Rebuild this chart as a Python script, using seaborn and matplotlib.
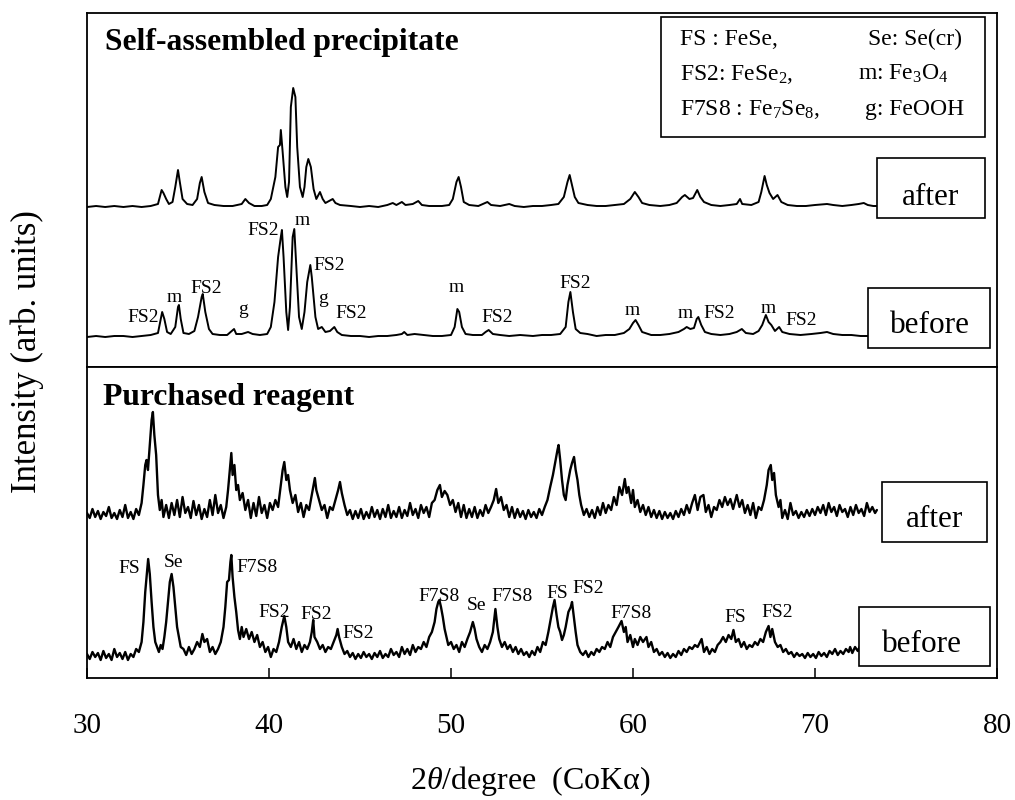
import matplotlib
matplotlib.use("Agg")
import matplotlib.pyplot as plt
from matplotlib.patches import Rectangle
import pandas as pd
import seaborn as sns

# ---------------- data (2theta in degrees, intensity in arbitrary units above each baseline) -------------
top_after = [(30.0,0),(30.5,1),(31.0,0),(31.5,1),(32.0,0),(32.5,1),(33.0,0),(33.5,1),(33.9,3),(34.1,17),(34.2,14),
    (34.35,8),(34.5,3),(34.7,5),(34.85,20),(35.0,37),(35.1,25),(35.25,8),(35.5,3),(35.8,2),(36.05,8),(36.2,24),
    (36.3,30),(36.45,15),(36.65,4),(37.0,2),(37.5,1),(38.0,1),(38.5,3),(38.7,8),(38.9,4),(39.2,1),(39.6,1),
    (39.9,2),(40.1,8),(40.35,30),(40.5,60),(40.6,62),(40.65,77),(40.75,55),(40.9,20),(41.0,10),(41.1,25),
    (41.2,100),(41.33,119),(41.45,110),(41.55,60),(41.7,20),(41.85,10),(41.95,20),(42.05,40),(42.16,48),
    (42.3,40),(42.45,18),(42.6,8),(42.8,15),(42.95,8),(43.1,4),(43.3,6),(43.5,8),(43.65,4),(43.9,2),(44.5,1),
    (45.0,0),(45.5,1),(46.0,0),(46.5,2),(46.8,4),(47.0,2),(47.3,5),(47.5,2),(47.9,3),(48.2,6),(48.4,2),(48.8,1),
    (49.5,1),(49.9,2),(50.1,8),(50.3,25),(50.42,30),(50.55,20),(50.7,5),(51.0,2),(51.5,1),(52.0,5),(52.2,2),
    (52.7,1),(53.2,3),(53.5,1),(54.0,0),(54.5,1),(55.0,1),(55.5,2),(55.9,3),(56.2,10),(56.4,25),(56.52,32),
    (56.65,22),(56.8,10),(57.0,4),(57.5,2),(58.0,1),(58.5,1),(59.0,2),(59.5,3),(59.85,8),(60.1,15),(60.3,10),
    (60.5,4),(60.9,2),(61.5,1),(62.0,2),(62.4,4),(62.7,10),(62.85,12),(63.1,8),(63.3,9),(63.53,17),(63.7,10),
    (63.9,5),(64.3,2),(64.8,1),(65.3,2),(65.7,3),(65.88,8),(66.0,3),(66.5,2),(66.9,5),(67.05,15),(67.23,31),
    (67.35,22),(67.5,14),(67.7,8),(67.94,12),(68.15,5),(68.5,2),(69.0,1),(69.5,1),(70.0,2),(70.66,3),(71.0,2),
    (71.5,1),(72.0,2),(72.4,3),(72.68,4),(72.9,2),(73.2,1),(73.45,1)]

top_before = [(30.0,0),(30.5,1),(31.0,0),(31.5,1),(32.0,1),(32.5,0),(33.0,1),(33.5,2),(33.9,4),(34.05,18),(34.13,25),
    (34.25,18),(34.4,5),(34.6,3),(34.85,10),(35.0,30),(35.05,32),(35.15,18),(35.3,4),(35.6,3),(35.9,6),(36.1,20),
    (36.3,40),(36.36,43),(36.5,25),(36.7,8),(36.9,3),(37.3,2),(37.7,2),(37.95,6),(38.08,8),(38.2,3),(38.5,3),
    (38.85,5),(39.1,3),(39.5,2),(39.9,3),(40.1,10),(40.3,35),(40.5,80),(40.65,100),(40.71,107),(40.8,80),
    (40.95,25),(41.05,7),(41.15,30),(41.3,100),(41.39,108),(41.5,70),(41.65,20),(41.8,8),(41.95,25),(42.1,55),
    (42.27,72),(42.35,60),(42.42,46),(42.55,20),(42.7,8),(42.9,10),(43.1,5),(43.35,6),(43.59,10),(43.75,5),
    (44.0,2),(44.5,1),(45.0,1),(45.5,0),(46.0,1),(46.5,1),(47.0,2),(47.3,3),(47.43,5),(47.6,2),(48.0,3),(48.5,2),
    (49.0,1),(49.5,1),(50.0,2),(50.2,10),(50.35,28),(50.45,25),(50.6,10),(50.8,3),(51.2,2),(51.7,2),(51.9,5),
    (52.07,7),(52.3,3),(52.7,2),(53.2,1),(53.8,2),(54.5,1),(55.0,2),(55.5,2),(56.0,3),(56.3,10),(56.45,35),
    (56.56,45),(56.7,25),(56.85,8),(57.1,4),(57.5,3),(58.0,1),(58.5,2),(59.0,2),(59.5,4),(59.8,8),(60.0,14),
    (60.14,17),(60.3,12),(60.5,5),(61.0,2),(61.5,2),(62.0,3),(62.5,5),(62.8,8),(62.95,10),(63.15,8),(63.35,9),
    (63.5,18),(63.59,20),(63.75,12),(63.95,5),(64.3,3),(64.8,2),(65.3,3),(65.7,5),(65.98,8),(66.2,4),(66.6,3),
    (66.9,6),(67.1,12),(67.3,22),(67.45,15),(67.6,12),(67.8,6),(68.03,10),(68.2,5),(68.6,3),(69.2,2),(69.8,3),
    (70.3,4),(70.66,5),(71.0,3),(71.5,2),(72.0,2),(72.5,1),(72.96,1)]

bottom_after = [(30.0,2),(30.15,-3),(30.3,6),(30.45,-2),(30.6,4),(30.75,-4),(30.9,3),(31.05,-1),(31.2,8),(31.35,-3),
    (31.5,2),(31.65,-4),(31.8,5),(31.95,-2),(32.1,10),(32.25,-3),(32.4,3),(32.55,-4),(32.7,6),(32.85,0),(33.0,12),
    (33.1,30),(33.2,50),(33.27,55),(33.35,45),(33.45,70),(33.55,95),(33.62,103),(33.7,80),(33.8,60),(33.9,20),
    (34.0,5),(34.1,15),(34.2,-2),(34.35,10),(34.5,-3),(34.65,12),(34.8,0),(34.95,15),(35.1,-2),(35.25,18),
    (35.4,2),(35.55,8),(35.7,-3),(35.85,14),(36.0,0),(36.15,10),(36.3,-4),(36.45,6),(36.6,-2),(36.75,15),(36.9,0),
    (37.05,20),(37.2,2),(37.35,10),(37.5,-3),(37.65,8),(37.75,25),(37.85,45),(37.93,62),(38.0,40),(38.1,50),
    (38.2,25),(38.3,30),(38.4,15),(38.55,22),(38.7,5),(38.85,15),(39.0,-3),(39.15,12),(39.3,-1),(39.45,18),
    (39.6,2),(39.75,10),(39.9,-3),(40.05,12),(40.2,5),(40.35,15),(40.5,8),(40.65,30),(40.75,45),(40.84,53),
    (40.95,35),(41.05,40),(41.15,25),(41.3,12),(41.45,20),(41.6,3),(41.75,12),(41.9,-2),(42.05,10),(42.2,5),
    (42.35,20),(42.45,30),(42.52,37),(42.6,25),(42.75,15),(42.9,5),(43.05,10),(43.2,-3),(43.35,8),(43.5,5),
    (43.65,15),(43.8,25),(43.9,33),(44.0,22),(44.15,10),(44.3,0),(44.45,5),(44.6,-4),(44.75,4),(44.9,-3),
    (45.05,6),(45.2,-4),(45.35,3),(45.5,-3),(45.65,8),(45.8,-2),(45.95,5),(46.1,-4),(46.25,6),(46.4,-2),
    (46.55,10),(46.7,-3),(46.85,4),(47.0,-2),(47.15,8),(47.3,-3),(47.45,5),(47.6,-1),(47.75,12),(47.9,0),
    (48.05,6),(48.2,-3),(48.35,10),(48.5,2),(48.65,8),(48.8,-2),(48.95,12),(49.1,15),(49.25,25),(49.39,30),
    (49.5,18),(49.65,24),(49.8,20),(49.95,10),(50.1,15),(50.25,3),(50.4,12),(50.55,-2),(50.7,10),(50.85,-3),
    (51.0,6),(51.15,-2),(51.3,8),(51.45,-3),(51.6,5),(51.75,-1),(51.9,10),(52.05,2),(52.2,8),(52.35,15),
    (52.48,26),(52.6,12),(52.75,18),(52.9,5),(53.05,10),(53.2,-2),(53.35,8),(53.5,-3),(53.65,6),(53.8,-2),
    (53.95,4),(54.1,-4),(54.25,5),(54.4,-2),(54.55,3),(54.7,-3),(54.85,6),(55.0,0),(55.15,8),(55.3,15),
    (55.45,28),(55.6,40),(55.75,55),(55.85,65),(55.91,70),(56.0,55),(56.1,35),(56.2,20),(56.3,15),(56.4,30),
    (56.55,45),(56.65,52),(56.76,58),(56.85,45),(56.95,35),(57.05,20),(57.15,10),(57.3,0),(57.45,6),(57.6,-2),
    (57.75,5),(57.9,-3),(58.05,8),(58.2,0),(58.35,12),(58.5,2),(58.65,10),(58.8,5),(58.95,18),(59.1,10),
    (59.25,28),(59.4,20),(59.55,36),(59.65,22),(59.75,28),(59.9,12),(60.0,25),(60.1,8),(60.25,15),(60.4,3),
    (60.55,10),(60.7,0),(60.85,8),(61.0,-2),(61.15,5),(61.3,-3),(61.45,4),(61.6,-4),(61.75,3),(61.9,-3),
    (62.05,2),(62.2,-4),(62.35,4),(62.5,-2),(62.65,6),(62.8,0),(62.95,10),(63.1,2),(63.25,12),(63.4,20),
    (63.55,5),(63.7,18),(63.87,20),(64.0,3),(64.15,10),(64.3,-2),(64.45,8),(64.6,5),(64.75,15),(64.9,8),
    (65.05,18),(65.2,10),(65.35,16),(65.5,6),(65.7,20),(65.85,8),(66.0,15),(66.15,2),(66.3,10),(66.45,0),
    (66.6,12),(66.75,-3),(66.9,8),(67.05,5),(67.2,15),(67.35,30),(67.45,45),(67.57,50),(67.65,35),(67.75,42),
    (67.85,20),(68.0,8),(68.1,15),(68.2,-3),(68.35,5),(68.5,-4),(68.65,12),(68.8,0),(68.95,4),(69.1,-3),
    (69.25,3),(69.4,-2),(69.55,5),(69.7,-1),(69.85,6),(70.0,0),(70.15,8),(70.3,2),(70.45,10),(70.6,0),
    (70.75,12),(70.9,3),(71.05,8),(71.2,-1),(71.35,10),(71.5,3),(71.65,6),(71.8,-2),(71.95,8),(72.1,0),
    (72.25,10),(72.4,2),(72.55,6),(72.7,-1),(72.85,12),(73.0,3),(73.15,8),(73.3,2),(73.4,5)]

bottom_before = [(30.0,3),(30.15,-2),(30.3,5),(30.45,0),(30.6,4),(30.75,-3),(30.9,6),(31.05,-1),(31.2,3),(31.35,-3),
    (31.5,8),(31.65,0),(31.8,4),(31.95,-2),(32.1,5),(32.25,-3),(32.4,3),(32.55,0),(32.7,8),(32.85,5),(33.0,15),
    (33.1,35),(33.2,65),(33.3,85),(33.36,98),(33.45,83),(33.55,55),(33.65,30),(33.75,15),(33.85,10),(33.95,5),
    (34.05,12),(34.15,8),(34.25,20),(34.35,35),(34.45,55),(34.55,75),(34.65,83),(34.75,70),(34.85,50),(34.95,30),
    (35.05,20),(35.15,10),(35.3,8),(35.45,2),(35.6,10),(35.75,3),(35.9,8),(36.05,15),(36.2,10),(36.34,23),
    (36.45,15),(36.6,18),(36.75,5),(36.9,10),(37.05,3),(37.2,8),(37.35,15),(37.5,30),(37.6,50),(37.7,75),
    (37.8,77),(37.88,95),(37.93,102),(38.0,80),(38.1,60),(38.2,45),(38.3,27),(38.4,18),(38.5,30),(38.6,20),
    (38.75,28),(38.9,18),(39.05,25),(39.2,15),(39.35,22),(39.5,10),(39.65,15),(39.8,5),(39.95,10),(40.1,0),
    (40.25,8),(40.4,5),(40.55,15),(40.7,30),(40.84,41),(40.95,30),(41.05,15),(41.2,10),(41.35,18),(41.5,8),
    (41.65,15),(41.8,5),(41.95,12),(42.1,8),(42.25,15),(42.35,25),(42.43,37),(42.5,20),(42.65,15),(42.8,8),
    (42.95,12),(43.1,5),(43.25,10),(43.4,8),(43.55,15),(43.7,22),(43.77,28),(43.85,20),(44.0,10),(44.15,3),
    (44.3,6),(44.45,0),(44.6,4),(44.75,-2),(44.9,3),(45.05,-1),(45.2,5),(45.35,0),(45.5,3),(45.65,-2),(45.8,4),
    (45.95,0),(46.1,6),(46.25,-1),(46.4,3),(46.55,0),(46.7,8),(46.85,2),(47.0,5),(47.15,0),(47.3,10),(47.45,3),
    (47.6,8),(47.75,2),(47.9,12),(48.05,5),(48.2,10),(48.35,8),(48.5,15),(48.65,10),(48.8,20),(48.95,25),
    (49.1,35),(49.2,48),(49.3,55),(49.36,57),(49.45,50),(49.55,40),(49.65,28),(49.75,20),(49.85,12),(50.0,15),
    (50.15,8),(50.3,12),(50.45,5),(50.6,15),(50.75,10),(50.9,18),(51.05,25),(51.2,35),(51.3,28),(51.4,18),
    (51.55,10),(51.7,5),(51.85,12),(52.0,8),(52.15,15),(52.3,25),(52.44,48),(52.55,30),(52.65,18),(52.8,10),
    (52.95,15),(53.1,8),(53.25,12),(53.4,5),(53.55,10),(53.7,3),(53.85,8),(54.0,2),(54.15,5),(54.3,0),(54.45,6),
    (54.6,2),(54.75,10),(54.9,5),(55.05,15),(55.2,12),(55.35,25),(55.5,40),(55.6,50),(55.69,57),(55.8,42),
    (55.9,30),(56.0,25),(56.1,17),(56.2,22),(56.3,30),(56.45,45),(56.58,50),(56.65,55),(56.75,40),(56.85,25),
    (56.95,12),(57.1,5),(57.25,2),(57.4,6),(57.55,0),(57.71,5),(57.85,2),(58.0,8),(58.15,5),(58.3,10),(58.45,8),
    (58.6,15),(58.75,10),(58.9,20),(59.05,25),(59.2,30),(59.37,36),(59.5,25),(59.6,30),(59.7,15),(59.85,22),
    (60.0,10),(60.1,18),(60.25,12),(60.4,20),(60.55,15),(60.74,20),(60.85,10),(61.0,15),(61.15,5),(61.3,8),
    (61.45,2),(61.6,5),(61.75,0),(61.9,4),(62.05,-1),(62.2,3),(62.35,0),(62.5,6),(62.65,2),(62.8,8),(62.95,5),
    (63.1,10),(63.25,8),(63.4,12),(63.55,10),(63.77,18),(63.9,5),(64.05,10),(64.2,3),(64.35,8),(64.5,5),
    (64.65,12),(64.8,15),(64.95,20),(65.1,15),(65.25,22),(65.4,18),(65.52,27),(65.65,15),(65.8,18),(65.95,10),
    (66.1,15),(66.25,8),(66.4,12),(66.55,10),(66.7,15),(66.85,12),(67.0,18),(67.15,15),(67.3,25),(67.45,31),
    (67.55,20),(67.65,28),(67.8,15),(67.95,10),(68.1,12),(68.25,5),(68.4,8),(68.55,3),(68.7,5),(68.85,0),
    (69.0,4),(69.15,1),(69.3,3),(69.45,-1),(69.6,4),(69.75,0),(69.9,3),(70.05,-1),(70.2,5),(70.35,1),(70.5,4),
    (70.65,0),(70.8,6),(70.95,3),(71.1,8),(71.25,2),(71.4,6),(71.55,3),(71.7,8),(71.85,5),(71.93,10),(72.05,4),
    (72.2,10),(72.35,6),(72.5,12),(72.59,15)]

x_ticks = [30, 40, 50, 60, 70, 80]

# peak labels: (text, 2theta, height in panel units)
top_labels = [("FS2",33.10,45.3),("m",34.82,65.3),("FS2",36.54,73.7),("g",38.57,53),("FS2",39.66,132),
              ("m",41.80,142),("FS2",43.30,97),("g",42.98,63.7),("FS2",44.51,48.7),("m",50.29,75.3),
              ("FS2",52.55,45.3),("FS2",56.81,78.7),("m",59.97,52),("m",62.86,48.7),("FS2",64.75,48.7),
              ("m",67.42,53.7),("FS2",69.22,42)]
bottom_labels = [("FS",32.30,104.7),("Se",34.73,111.3),("F7S8",39.32,106.3),("FS2",40.31,61.3),("FS2",42.60,58.7),
                 ("FS2",44.89,40.3),("F7S8",49.35,77.3),("Se",51.41,68),("F7S8",53.35,77.3),("FS",55.85,79.7),
                 ("FS2",57.54,85.3),("F7S8",59.90,59.7),("FS",65.60,56.3),("FS2",67.92,61.3)]

# ---------------- style ----------------
sns.set_theme(style="white")
plt.rcParams["font.family"] = ["Liberation Serif", "DejaVu Serif"]
plt.rcParams["mathtext.fontset"] = "custom"
plt.rcParams["mathtext.rm"] = "Liberation Serif"
plt.rcParams["mathtext.it"] = "Liberation Serif:italic"
plt.rcParams["text.color"] = "black"
plt.rcParams["axes.edgecolor"] = "black"
plt.rcParams["axes.linewidth"] = 1.3

W, H = 1015, 800
fig = plt.figure(figsize=(W / 100, H / 100), dpi=100)
fig.patch.set_facecolor("white")

ax_top = fig.add_axes([87 / W, (H - 367) / H, 910 / W, 354.3 / H])
ax_bot = fig.add_axes([87 / W, (H - 678) / H, 910 / W, 311 / H])


def draw(ax, pts, offset, lw):
    df = pd.DataFrame(pts, columns=["two_theta", "intensity"])
    df["intensity"] = df["intensity"] + offset
    sns.lineplot(data=df, x="two_theta", y="intensity", ax=ax, color="black",
                 linewidth=lw, sort=False, estimator=None)


draw(ax_top, top_after, 160, 1.4)
draw(ax_top, top_before, 30, 1.4)
draw(ax_bot, bottom_after, 163, 1.7)
draw(ax_bot, bottom_before, 21, 1.7)

ax_top.set_ylim(0, 354.3)
ax_bot.set_ylim(0, 311)
for ax in (ax_top, ax_bot):
    ax.set_xlim(30, 80)
    ax.set_xlabel("")
    ax.set_ylabel("")
    ax.set_yticks([])
    for s in ax.spines.values():
        s.set_visible(True)
        s.set_color("black")
        s.set_linewidth(1.3)

ax_top.set_xticks([])
ax_bot.set_xticks(x_ticks)
ax_bot.set_xticklabels([str(t) for t in x_ticks])
ax_bot.tick_params(axis="x", bottom=True, top=False, direction="in", length=7,
                   width=1.1, color="black", pad=25, labelsize=21, labelcolor="black")

# peak labels
for txt, x, y in top_labels:
    ax_top.text(x, y, txt, ha="center", va="baseline", fontsize=14, color="black")
for txt, x, y in bottom_labels:
    ax_bot.text(x, y, txt, ha="center", va="baseline", fontsize=14, color="black")

# panel titles
ax_top.text(0.0198, 0.8947, "Self-assembled precipitate", transform=ax_top.transAxes,
            fontsize=22.8, fontweight="bold", ha="left", va="baseline", color="black")
ax_bot.text(0.0176, 0.878, "Purchased reagent", transform=ax_bot.transAxes,
            fontsize=22.8, fontweight="bold", ha="left", va="baseline", color="black")


def box(ax, x0, y0, x1, y1):
    ax.add_patch(Rectangle((x0, y0), x1 - x0, y1 - y0, transform=ax.transAxes,
                           facecolor="white", edgecolor="black", linewidth=1.2, zorder=4))


# after/before boxes
box(ax_top, 0.868, 0.4205, 0.987, 0.5899)
ax_top.text(0.9275, 0.457, "after", transform=ax_top.transAxes, fontsize=22.5, ha="center", va="baseline", zorder=5)
box(ax_top, 0.858, 0.0536, 0.9923, 0.223)
ax_top.text(0.926, 0.095, "before", transform=ax_top.transAxes, fontsize=22.5, ha="center", va="baseline", zorder=5)
box(ax_bot, 0.8733, 0.4383, 0.9887, 0.6312)
ax_bot.text(0.9315, 0.4865, "after", transform=ax_bot.transAxes, fontsize=22.5, ha="center", va="baseline", zorder=5)
box(ax_bot, 0.8484, 0.0386, 0.9923, 0.2293)
ax_bot.text(0.9175, 0.0846, "before", transform=ax_bot.transAxes, fontsize=22.5, ha="center", va="baseline", zorder=5)

# phase key box
box(ax_top, 0.6304, 0.6501, 0.9868, 0.9887)
key_left = ["FS : FeSe,", r"FS2: FeSe$_2$,", r"F7S8 : Fe$_7$Se$_8$,"]
key_right = ["Se: Se(cr)", r"m: Fe$_3$O$_4$", "g: FeOOH"]
key_right_x = [0.8582, 0.8473, 0.8549]
key_y = [0.9088, 0.810, 0.7113]
for t, y in zip(key_left, key_y):
    ax_top.text(0.6516, y, t, transform=ax_top.transAxes, fontsize=17, ha="left", va="baseline", zorder=5)
for t, xx, y in zip(key_right, key_right_x, key_y):
    ax_top.text(xx, y, t, transform=ax_top.transAxes, fontsize=17, ha="left", va="baseline", zorder=5)

# axis titles
fig.text(27.5 / W, 1 - 352 / H, "Intensity (arb. units)", rotation=90, fontsize=25,
         ha="center", va="center", color="black")
fig.text(530 / W, 1 - 781 / H, r"2$\theta$/degree  (CoKα)", fontsize=23, ha="center", va="center",
         color="black")

fig.savefig("out.png", dpi=100, facecolor="white")
